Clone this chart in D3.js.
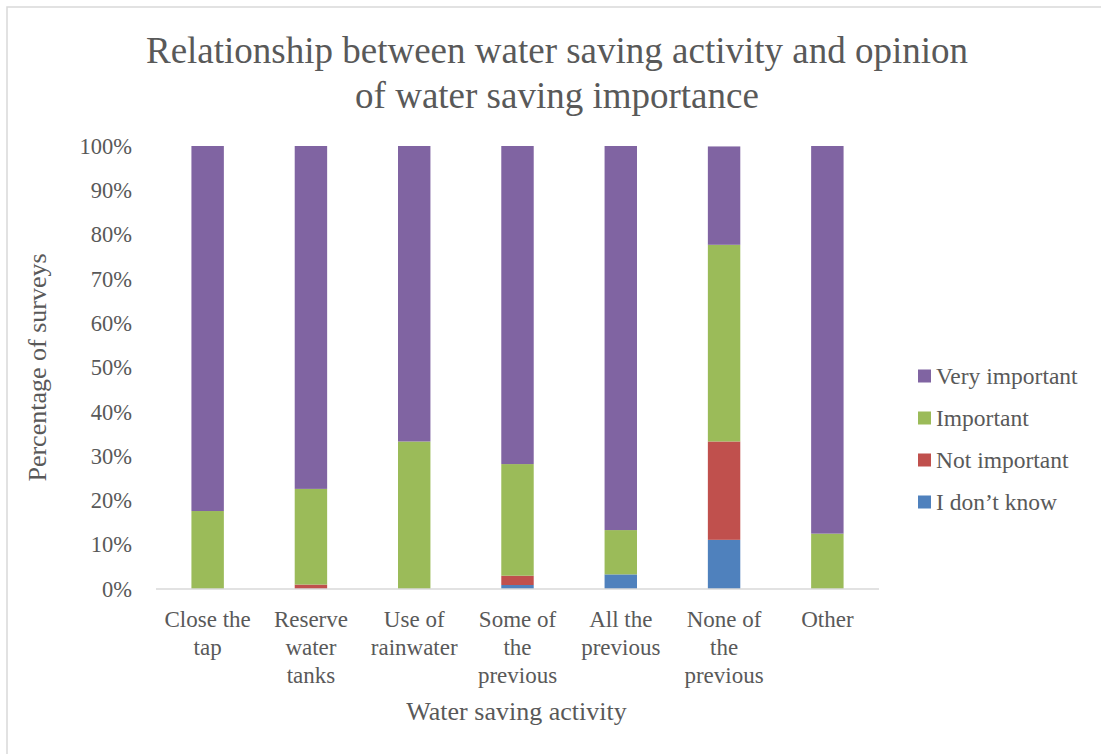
<!DOCTYPE html>
<html>
<head>
<meta charset="utf-8">
<script src="https://cdn.jsdelivr.net/npm/d3@7"></script>
<style>
  html, body { margin: 0; padding: 0; background: #fff; }
  svg { display: block; }
  text { font-family: "Liberation Serif", "Times New Roman", serif; fill: #595959; }
</style>
</head>
<body>
<svg id="chart" width="1101" height="754"></svg>
<script>
// Water saving activity vs. opinion of importance (share of surveys, %)
const categories = ["Close the tap", "Reserve water tanks", "Use of rainwater",
  "Some of the previous", "All the previous", "None of the previous", "Other"];
const seriesNames = ["I don\u2019t know", "Not important", "Important", "Very important"];
const dontKnow     = [0,    0,    0,    0.9,  3.3,  11.1, 0];
const notImportant = [0,    1.0,  0,    2.1,  0,    22.2, 0];
const important    = [17.6, 21.6, 33.3, 25.2, 10.0, 44.4, 12.5];
const veryImportant= [82.4, 77.4, 66.7, 71.8, 86.7, 22.2, 87.5];
const yTicks = [0, 10, 20, 30, 40, 50, 60, 70, 80, 90, 100];
const colors = ["#4F81BD", "#C0504D", "#9BBB59", "#8064A2"];

const seriesValues = [dontKnow, notImportant, important, veryImportant];
const rows = categories.map((c, i) => {
  const r = { category: c };
  seriesNames.forEach((s, k) => { r[s] = seriesValues[k][i]; });
  return r;
});

const svg = d3.select("#chart");
const plot = { left: 156, right: 879, top: 146, bottom: 589 };

// chart frame
svg.append("rect")
  .attr("x", 7).attr("y", 7).attr("width", 1110).attr("height", 770)
  .attr("fill", "none").attr("stroke", "#d9d9d9").attr("stroke-width", 1.5);

const x = d3.scaleBand().domain(categories)
  .range([plot.left, plot.right]).paddingInner(0.686).paddingOuter(0.343);
const y = d3.scaleLinear().domain([0, 100]).range([plot.bottom, plot.top]);

const stack = d3.stack().keys(seriesNames);
const layers = stack(rows);

svg.append("g").selectAll("g")
  .data(layers).join("g")
  .attr("fill", (d, i) => colors[i])
  .selectAll("rect")
  .data(d => d).join("rect")
  .attr("x", d => x(d.data.category))
  .attr("width", x.bandwidth())
  .attr("y", d => y(d[1]))
  .attr("height", d => y(d[0]) - y(d[1]));

// category axis line
svg.append("line")
  .attr("x1", plot.left).attr("x2", plot.right)
  .attr("y1", plot.bottom).attr("y2", plot.bottom)
  .attr("stroke", "#d9d9d9").attr("stroke-width", 1.5);

// value axis labels
const yAxis = d3.axisLeft(y).tickValues(yTicks).tickFormat(d => d + "%").tickSize(0).tickPadding(0);
const yg = svg.append("g").attr("transform", `translate(${plot.left - 24},0)`).call(yAxis);
yg.select(".domain").remove();
yg.selectAll("text").attr("font-size", 22.5).attr("fill", "#595959")
  .attr("font-family", "Liberation Serif, Times New Roman, serif");

// category labels, wrapped to the band width
const xAxis = d3.axisBottom(x).tickSize(0).tickPadding(0);
const xg = svg.append("g").attr("transform", `translate(0,${plot.bottom})`).call(xAxis);
xg.select(".domain").remove();
xg.selectAll("text")
  .attr("font-size", 23).attr("fill", "#595959")
  .attr("font-family", "Liberation Serif, Times New Roman, serif")
  .each(function (d) {
    const t = d3.select(this);
    const words = d.split(" ");
    t.text(null).attr("y", 0).attr("dy", null);
    const lines = [];
    let line = [];
    const probe = t.append("tspan");
    words.forEach(w => {
      line.push(w);
      probe.text(line.join(" "));
      if (probe.node().getComputedTextLength() > 98 && line.length > 1) {
        line.pop();
        lines.push(line.join(" "));
        line = [w];
      }
    });
    lines.push(line.join(" "));
    probe.remove();
    lines.forEach((l, i) => {
      t.append("tspan").attr("x", 0).attr("y", 38 + i * 27.8).text(l);
    });
  });

// title
const title = svg.append("text")
  .attr("text-anchor", "middle").attr("font-size", 37).attr("fill", "#595959");
["Relationship between water saving activity and opinion", "of water saving importance"]
  .forEach((l, i) => title.append("tspan").attr("x", 557).attr("y", 63 + i * 45).text(l));

// axis titles
svg.append("text")
  .attr("text-anchor", "middle").attr("font-size", 26)
  .attr("x", (plot.left + plot.right) / 2 - 1).attr("y", 720)
  .text("Water saving activity");
svg.append("text")
  .attr("text-anchor", "middle").attr("font-size", 26)
  .attr("transform", `translate(46,${(plot.top + plot.bottom) / 2}) rotate(-90)`)
  .text("Percentage of surveys");

// legend (top entry = last series)
const legendItems = seriesNames.map((s, i) => ({ name: s, color: colors[i] })).reverse();
const lg = svg.append("g").selectAll("g").data(legendItems).join("g")
  .attr("transform", (d, i) => `translate(918,${376 + i * 42})`);
lg.append("rect").attr("x", 0).attr("y", -6.5).attr("width", 13).attr("height", 13)
  .attr("fill", d => d.color);
lg.append("text").attr("x", 18).attr("y", 0).attr("dy", "0.33em")
  .attr("font-size", 23.5).text(d => d.name);
</script>
</body>
</html>
